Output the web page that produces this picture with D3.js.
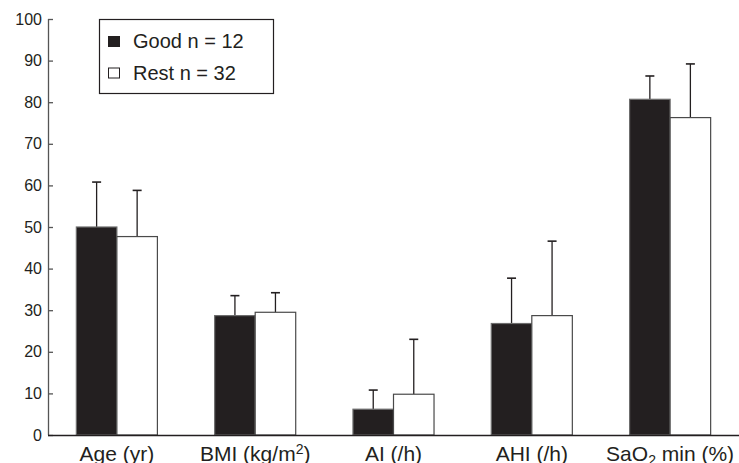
<!DOCTYPE html>
<html>
<head>
<meta charset="utf-8">
<title>Good vs Rest</title>
<style>
  body { margin: 0; background: #fff; }
  text { font-family: Arial, "Liberation Sans", sans-serif; fill: #231f20; }
</style>
</head>
<body>
<svg width="739" height="463"></svg>
<script src="https://d3js.org/d3.v7.min.js"></script>
<script>
const categories = ['Age (yr)', 'BMI (kg/m2)', 'AI (/h)', 'AHI (/h)', 'SaO2 min (%)'];
const series = ['Good n = 12', 'Rest n = 32'];
const goodMean = [50, 28.7, 6.2, 26.8, 80.7];
const goodSD = [10.8, 4.8, 4.6, 10.9, 5.6];
const restMean = [47.7, 29.5, 9.8, 28.7, 76.3];
const restSD = [11.1, 4.7, 13.2, 17.9, 12.9];
const yTicks = [0, 10, 20, 30, 40, 50, 60, 70, 80, 90, 100];

const svg = d3.select('svg');
const width = +svg.attr('width');
const plotLeft = 48, plotBottom = 435, plotTop = 19;

const fills = ['#231f20', '#ffffff'];
const strokes = ['#6d6d6d', '#4a4a4a'];

const x0 = d3.scaleBand().domain(categories).range([plotLeft, width])
  .paddingInner(0.414).paddingOuter(0.205);
const x1 = d3.scaleBand().domain(series).range([0, x0.bandwidth()]);
const y = d3.scaleLinear().domain([0, 100]).range([plotBottom, plotTop]);

const rows = [];
categories.forEach((c, i) => {
  rows.push({ cat: c, s: series[0], mean: goodMean[i], sd: goodSD[i], k: 0 });
  rows.push({ cat: c, s: series[1], mean: restMean[i], sd: restSD[i], k: 1 });
});

// error bars (drawn first so bars cover the lower part)
const err = svg.append('g');
rows.forEach(d => {
  const cx = x0(d.cat) + x1(d.s) + x1.bandwidth() / 2;
  err.append('line').attr('x1', cx).attr('x2', cx)
    .attr('y1', y(d.mean)).attr('y2', y(d.mean + d.sd))
    .attr('stroke', '#231f20').attr('stroke-width', 1.3);
  err.append('line').attr('x1', cx - 4.5).attr('x2', cx + 4.5)
    .attr('y1', y(d.mean + d.sd)).attr('y2', y(d.mean + d.sd))
    .attr('stroke', '#231f20').attr('stroke-width', 1.6);
});

svg.append('g').selectAll('rect').data(rows).enter().append('rect')
  .attr('x', d => x0(d.cat) + x1(d.s))
  .attr('y', d => y(d.mean))
  .attr('width', x1.bandwidth())
  .attr('height', d => plotBottom - y(d.mean))
  .attr('fill', d => fills[d.k])
  .attr('stroke', d => strokes[d.k])
  .attr('stroke-width', 1.2);

// y axis
const yAxis = svg.append('g').attr('transform', `translate(${plotLeft},0)`)
  .call(d3.axisLeft(y).tickValues(yTicks).tickSize(-5).tickPadding(6));
yAxis.select('.domain').attr('stroke', '#555').attr('stroke-width', 1.3)
  .attr('d', `M0.5,${plotBottom}V${plotTop}`);
yAxis.selectAll('.tick line').attr('stroke', '#555').attr('stroke-width', 1.3);
yAxis.selectAll('.tick text').attr('font-size', 16).attr('fill', '#231f20')
  .style('font-family', 'Arial, "Liberation Sans", sans-serif');

// x axis
const xAxis = svg.append('g').attr('transform', `translate(0,${plotBottom})`)
  .call(d3.axisBottom(x0).tickSize(0).tickFormat(''));
xAxis.select('.domain').attr('stroke', '#231f20').attr('stroke-width', 1.3)
  .attr('d', `M${plotLeft},0.5H${width}`);

// category labels with sub/superscripts
categories.forEach(c => {
  const t = svg.append('text')
    .attr('x', x0(c) + x0.bandwidth() / 2)
    .attr('y', 461)
    .attr('text-anchor', 'middle')
    .attr('font-size', 21);
  if (c === 'BMI (kg/m2)') {
    t.append('tspan').text('BMI (kg/m');
    t.append('tspan').attr('font-size', 14).attr('dy', -7).text('2');
    t.append('tspan').attr('dy', 7).text(')');
  } else if (c === 'SaO2 min (%)') {
    t.append('tspan').text('SaO');
    t.append('tspan').attr('font-size', 14).attr('dy', 4).text('2');
    t.append('tspan').attr('dy', -4).text(' min (%)');
  } else {
    t.text(c);
  }
});

// legend
const lg = svg.append('g');
lg.append('rect').attr('x', 99.5).attr('y', 19.5).attr('width', 174).attr('height', 74)
  .attr('fill', '#fff').attr('stroke', '#231f20').attr('stroke-width', 1.2);
series.forEach((s, i) => {
  lg.append('rect').attr('x', 108.5).attr('y', 36.5 + i * 31.5)
    .attr('width', 11).attr('height', 10)
    .attr('fill', fills[i]).attr('stroke', '#231f20').attr('stroke-width', 1);
  lg.append('text').attr('x', 133).attr('y', 48 + i * 32)
    .attr('font-size', 20).text(s);
});
</script>
</body>
</html>
